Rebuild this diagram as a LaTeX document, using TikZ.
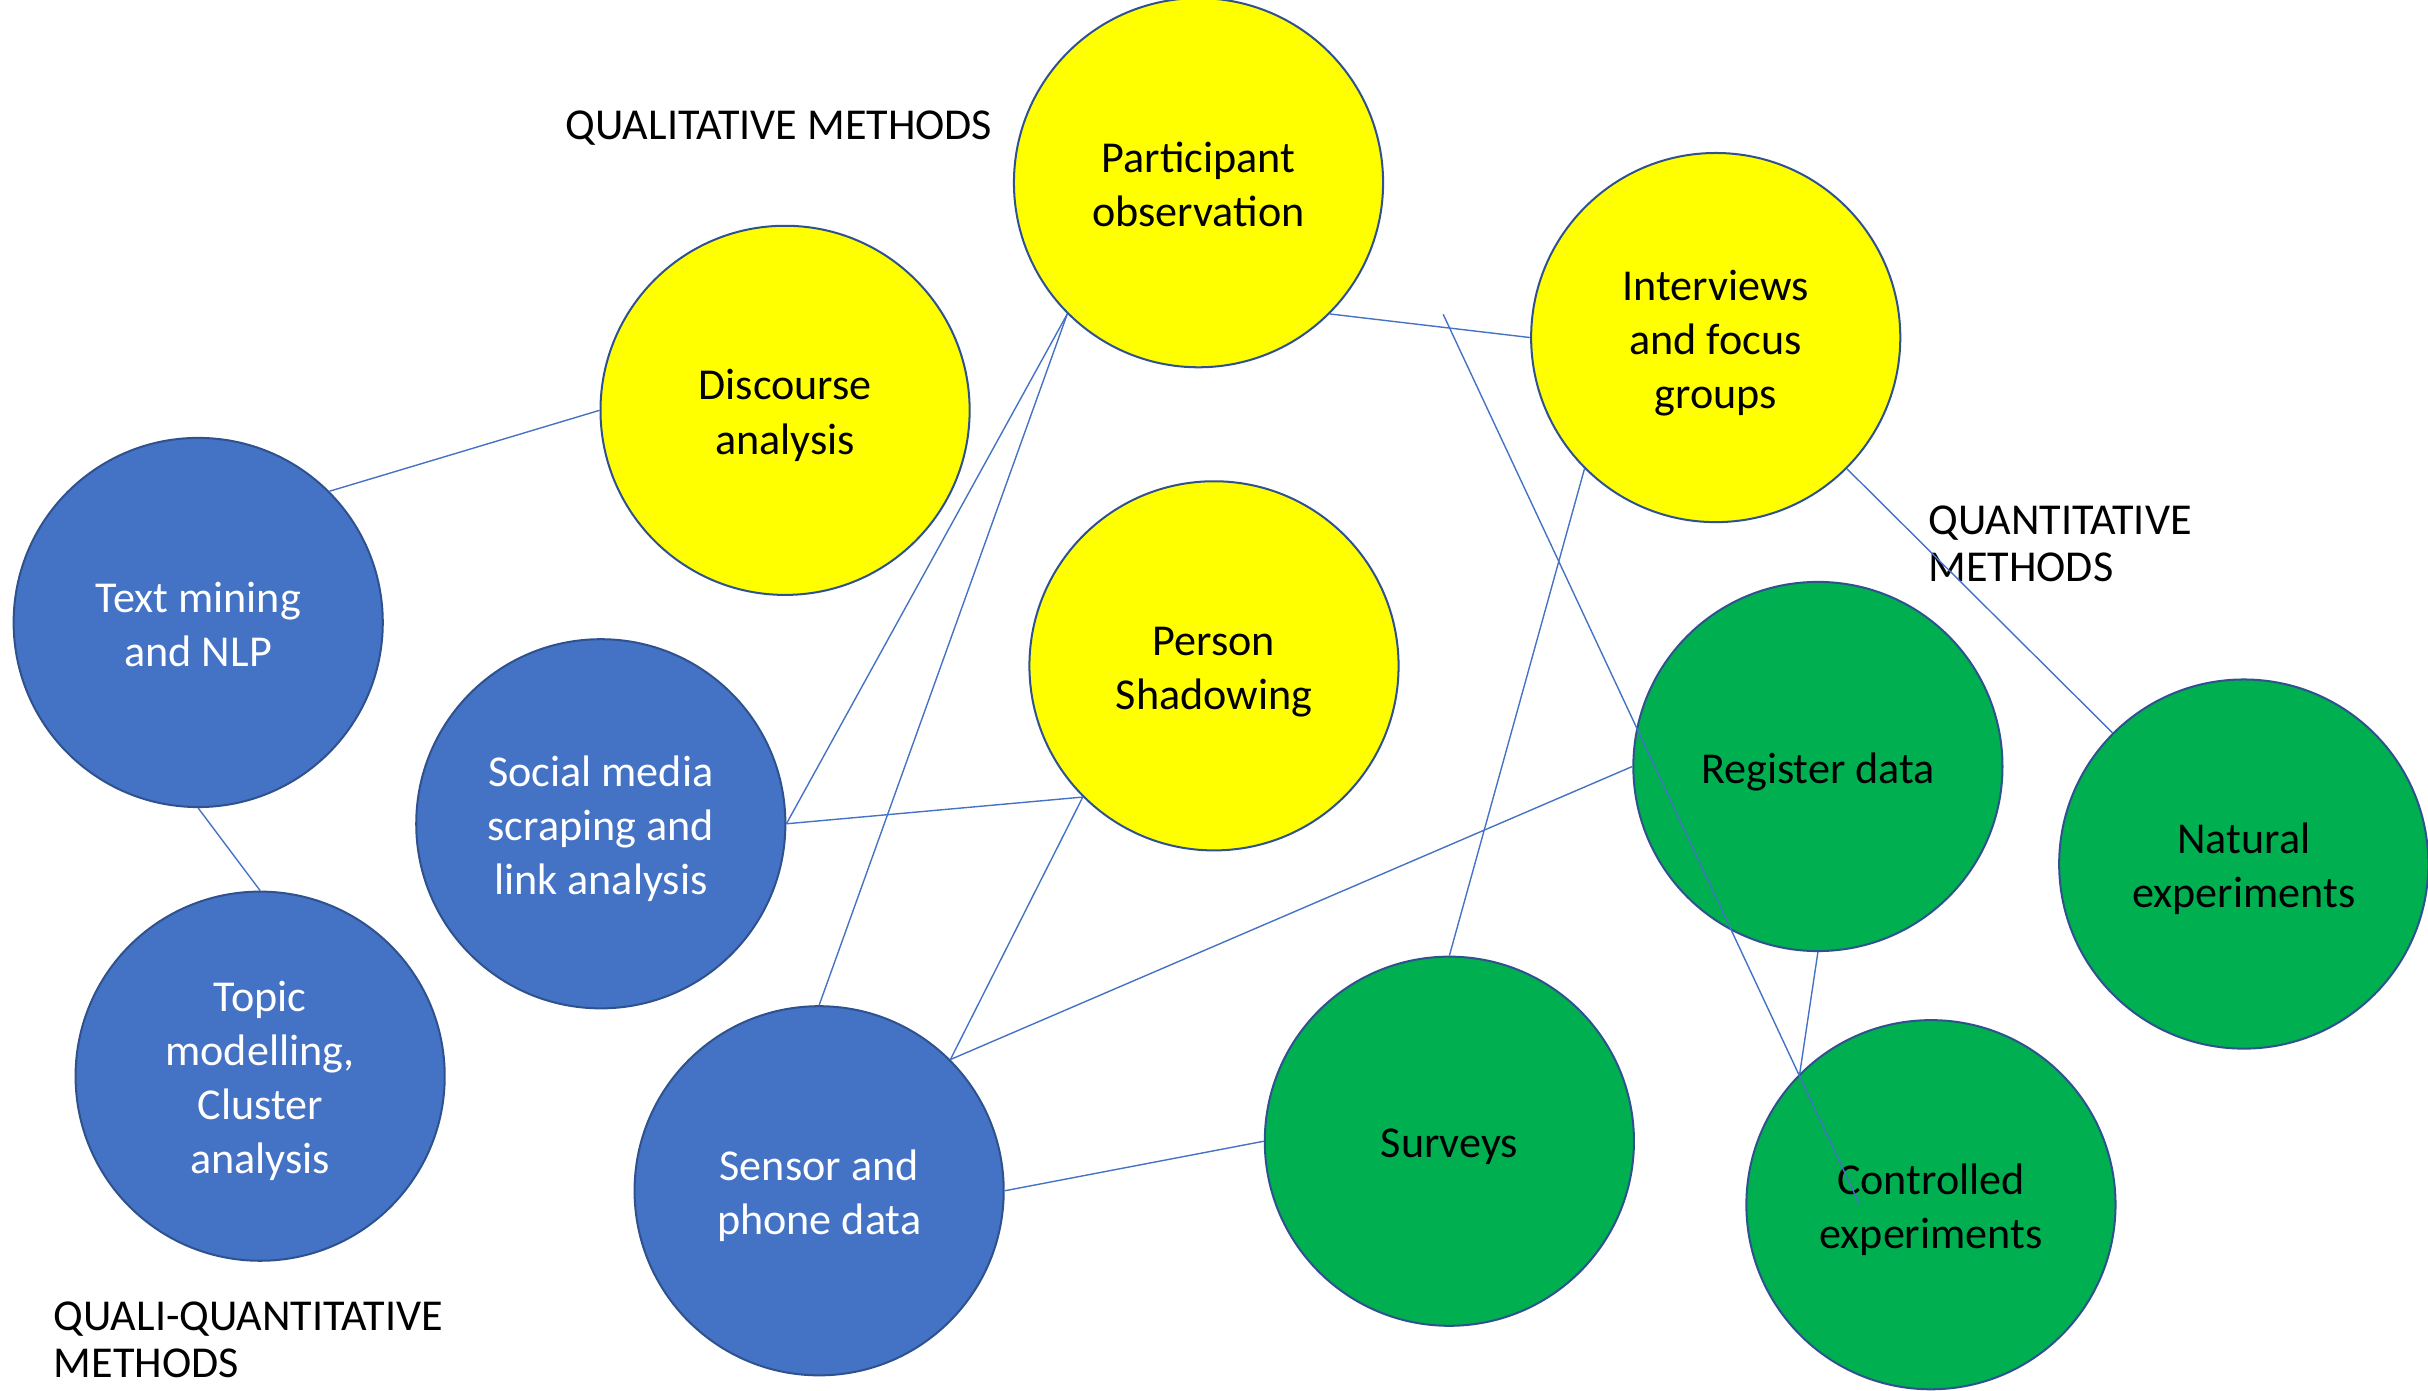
\documentclass[tikz,border=0pt]{standalone}
\usepackage{fontspec}
\setmainfont{Carlito}
\definecolor{cyel}{HTML}{FFFF00}
\definecolor{cblue}{HTML}{4472C4}
\definecolor{cgreen}{HTML}{00B050}
\definecolor{cedge}{HTML}{2F528F}
\definecolor{cline}{HTML}{4472C4}
\newcommand{\pst}{\rule[-3.35pt]{0pt}{17.45pt}}
\tikzset{
  bubble/.style={circle, draw=cedge, line width=0.65pt, minimum size=119.2pt, inner sep=0pt, align=center, font=\fontsize{14.25}{17.45}\selectfont},
  qual/.style={bubble, fill=cyel, text=black},
  mixed/.style={bubble, fill=cblue, text=white},
  quant/.style={bubble, fill=cgreen, text=black},
  link/.style={draw=cline, line width=0.45pt},
  lbl/.style={inner sep=0pt, align=left, font=\fontsize{14.25}{15.3}\selectfont, text=black}
}
\begin{document}
\begin{tikzpicture}[x=0.5pt, y=-0.5pt]
\useasboundingbox (0,0) rectangle (1568,898);
% circles
\node[qual]  (po)  at (774,118) {\pst Participant\\\pst observation};
\node[qual]  (ifg) at (1108,218) {\pst Interviews\\\pst and focus\\\pst groups};
\node[qual]  (da)  at (507,265) {\pst Discourse\\\pst analysis};
\node[qual]  (ps)  at (784,430) {\pst Person\\\pst Shadowing};
\node[mixed] (tm)  at (128,402) {\pst Text mining\\\pst and NLP};
\node[mixed] (sm)  at (388,532) {\pst Social media\\\pst scraping and\\\pst link analysis};
\node[mixed] (tpc) at (168,695) {\pst Topic\\\pst modelling,\\\pst Cluster\\\pst analysis};
\node[mixed] (sp)  at (529,769) {\pst Sensor and\\\pst phone data};
\node[quant] (rd)  at (1174,495) {\pst Register data};
\node[quant] (ne)  at (1449,558) {\pst Natural\\\pst experiments};
\node[quant] (sv)  at (936,737) {\pst Surveys};
\node[quant] (ce)  at (1247,778) {\pst Controlled\\\pst experiments};
% labels
\node[lbl, anchor=base west] (lq) at (365,90.4) {QUALITATIVE METHODS};
\node[lbl, anchor=base west] (ln) at (1245,375.6) {QUANTITATIVE\\METHODS};
\node[lbl, anchor=base west] (lm) at (34.4,889.7) {QUALI-QUANTITATIVE\\METHODS};
% free connector ends
\coordinate (fa) at (932,203);
\coordinate (fb) at (1201,778);
% connectors
\draw[link] (tm.45) -- (da.180);
\draw[link] (tm.270) -- (tpc.90);
\draw[link] (po.225) -- (sm.0);
\draw[link] (po.225) -- (sp.90);
\draw[link] (po.315) -- (ifg.180);
\draw[link] (fa) -- (fb);
\draw[link] (ifg.225) -- (sv.90);
\draw[link] (ifg.315) -- (ne.135);
\draw[link] (sm.0) -- (ps.225);
\draw[link] (ps.225) -- (sp.45);
\draw[link] (sp.45) -- (rd.180);
\draw[link] (sp.0) -- (sv.180);
\draw[link] (rd.270) -- (ce.135);
\end{tikzpicture}
\end{document}
